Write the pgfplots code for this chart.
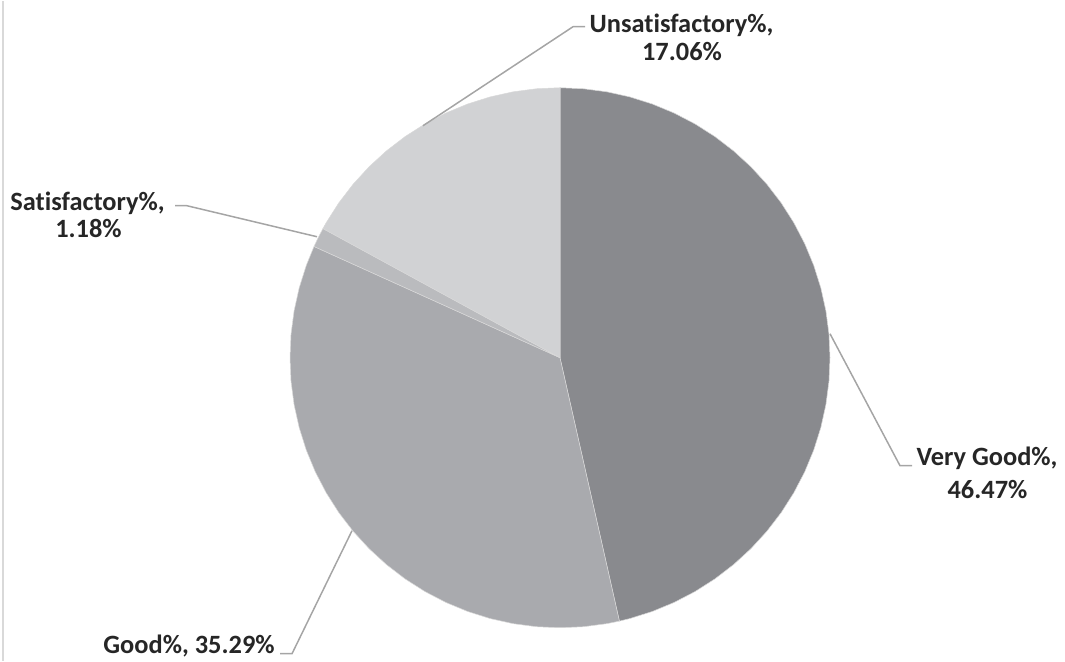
\documentclass[border=0pt]{standalone}
\usepackage{fontspec}
\setmainfont{Carlito}[Ligatures=CommonOff]
\usepackage{pgfplots}
\pgfplotsset{compat=1.18}
\usepgfplotslibrary{polar}
\definecolor{cVG}{RGB}{137,138,142}
\definecolor{cG}{RGB}{169,170,174}
\definecolor{cS}{RGB}{186,187,190}
\definecolor{cU}{RGB}{209,210,212}
\definecolor{cLine}{RGB}{165,165,165}
\definecolor{cBorder}{RGB}{217,217,217}
\definecolor{cText}{RGB}{38,38,38}
\tikzset{lbl/.style={font=\fontsize{13.2}{15.8}\selectfont\bfseries, text=cText, inner sep=0pt, anchor=base}}
\begin{document}
\begin{tikzpicture}
\begin{axis}[
  scale only axis, width=532.5pt, height=330pt,
  xmin=-560, xmax=505, ymin=-303, ymax=357,
  hide axis, clip=false,
  leader/.style={draw=cLine, line width=0.75pt},
  slice/.style={draw=white!85!black, line width=0.25pt, line join=round, data cs=polar},
]
\path (rel axis cs:0,0) rectangle (rel axis cs:1,1);
% chart border (left edge)
\addplot[draw=cBorder, line width=0.75pt] coordinates {(-557,-303) (-557,357)};
% Very Good 46.47%
\addplot[slice, fill=cVG] coordinates {(0,0) (90,270) (85,270) (80,270) (75,270) (70,270) (65,270) (60,270) (55,270) (50,270) (45,270) (40,270) (35,270) (30,270) (25,270) (20,270) (15,270) (10,270) (5,270) (0,270) (-5,270) (-10,270) (-15,270) (-20,270) (-25,270) (-30,270) (-35,270) (-40,270) (-45,270) (-50,270) (-55,270) (-60,270) (-65,270) (-70,270) (-75,270) (-77.292,270) (0,0)};
% Good 35.29%
\addplot[slice, fill=cG] coordinates {(0,0) (-77.292,270) (-80,270) (-85,270) (-90,270) (-95,270) (-100,270) (-105,270) (-110,270) (-115,270) (-120,270) (-125,270) (-130,270) (-135,270) (-140,270) (-145,270) (-150,270) (-155,270) (-160,270) (-165,270) (-170,270) (-175,270) (-180,270) (-185,270) (-190,270) (-195,270) (-200,270) (-204.336,270) (0,0)};
% Satisfactory 1.18%
\addplot[slice, fill=cS] coordinates {(0,0) (-204.336,270) (-206.46,270) (-208.584,270) (0,0)};
% Unsatisfactory 17.06%
\addplot[slice, fill=cU] coordinates {(0,0) (-208.584,270) (-210,270) (-215,270) (-220,270) (-225,270) (-230,270) (-235,270) (-240,270) (-245,270) (-250,270) (-255,270) (-260,270) (-265,270) (-270,270) (0,0)};
% leader lines
\addplot[leader] coordinates {(-137,232) (13,331) (25,331)};
\addplot[leader] coordinates {(-243,121) (-373,152) (-385,152)};
\addplot[leader] coordinates {(270,24) (340,-108) (352,-108)};
\addplot[leader] coordinates {(-208,-173) (-268,-296) (-280,-296)};
% labels
\node[lbl] at (axis cs:427,-108) {Very Good\%,};
\node[lbl] at (axis cs:427.5,-141) {46.47\%};
\node[lbl] at (axis cs:121.5,325) {Unsatisfactory\%,};
\node[lbl] at (axis cs:122,297) {17.06\%};
\node[lbl] at (axis cs:-472.5,147) {Satisfactory\%,};
\node[lbl] at (axis cs:-471.5,120) {1.18\%};
\node[lbl] at (axis cs:-371,-296) {Good\%, 35.29\%};
\end{axis}
\end{tikzpicture}
\end{document}
